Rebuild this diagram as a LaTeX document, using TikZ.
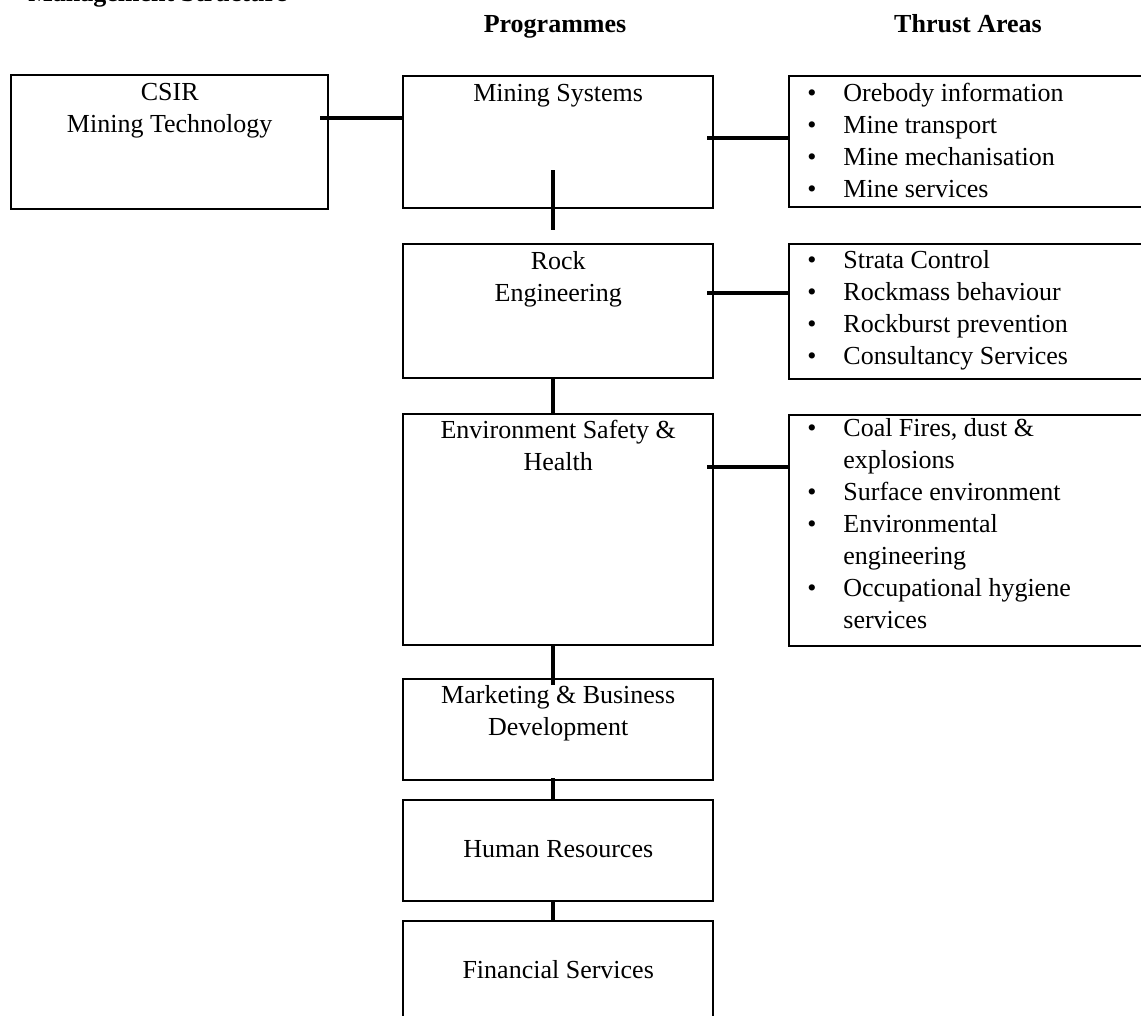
\documentclass[tikz,border=0pt]{standalone}
\usepackage{fontspec}
\setmainfont{Liberation Serif}
\usetikzlibrary{positioning,calc}

\newcommand{\tabul}{\makebox[18pt][l]{\raisebox{0.3pt}{\textbullet}}}
\newcommand{\nobul}{\makebox[18pt]{}}
\newcommand{\stack}[1]{\begin{tabular}[t]{@{}c@{}}#1\end{tabular}}
\newcommand{\items}[1]{\begin{tabular}[t]{@{}l@{}}#1\end{tabular}}

\tikzset{
  box/.style={draw, line width=1.2pt, anchor=north west, inner sep=0pt, minimum width=155pt},
  areabox/.style={box, minimum width=190pt},
  link/.style={line width=2pt},
  boxtext/.style={anchor=base, inner sep=0pt, font=\fontsize{13}{16}\selectfont},
  head/.style={anchor=base, inner sep=0pt, font=\fontsize{13}{16}\selectfont\bfseries},
  listtext/.style={anchor=base west, inner sep=0pt, font=\fontsize{13}{16}\selectfont}
}

\begin{document}
\begin{tikzpicture}[x=0.5pt, y=-0.5pt]
    \useasboundingbox (0,0) rectangle (1141,1016);

    % headings
    \node[head, anchor=base west] (title) at (28,2) {Management Structure};
    \node[head] (proghead) at (555,33) {Programmes};
    \node[head] (areahead) at (968,33) {Thrust Areas};

    % boxes
    \node[box, minimum width=158.5pt, minimum height=67pt] (csir) at (10,74) {};
    \node[box, minimum height=66pt] (ms) at (402,75) {};
    \node[box, minimum height=67pt] (rock) at (402,243) {};
    \node[box, minimum height=115.5pt] (env) at (402,413) {};
    \node[box, minimum height=50.5pt] (mkt) at (402,678) {};
    \node[box, minimum height=50.5pt] (hr) at (402,799) {};
    \node[box, minimum height=60pt] (fs) at (402,920) {};
    \node[areabox, minimum height=65.5pt] (ta1) at (788,75) {};
    \node[areabox, minimum height=67.5pt] (ta2) at (788,243) {};
    \node[areabox, minimum height=115.5pt] (ta3) at (788,414) {};

    % programme names
    \node[boxtext] (csir-t) at ([yshift=-13.5pt]csir.north) {\stack{CSIR\\Mining Technology}};
    \node[boxtext] (ms-t) at ([yshift=-13.5pt]ms.north) {Mining Systems};
    \node[boxtext] (rock-t) at ([yshift=-13.5pt]rock.north) {\stack{Rock\\Engineering}};
    \node[boxtext] (env-t) at ([yshift=-12.5pt]env.north) {\stack{Environment Safety \&\\Health}};
    \node[boxtext] (mkt-t) at ([yshift=-12.5pt]mkt.north) {\stack{Marketing \& Business\\Development}};
    \node[boxtext] (hr-t) at ([yshift=-29pt]hr.north) {Human Resources};
    \node[boxtext] (fs-t) at ([yshift=-29pt]fs.north) {Financial Services};

    % thrust areas
    \node[listtext] (ta1-t) at ([xshift=9.5pt,yshift=-13.5pt]ta1.north west) {\items{%
        \tabul Orebody information\\
        \tabul Mine transport\\
        \tabul Mine mechanisation\\
        \tabul Mine services}};
    \node[listtext] (ta2-t) at ([xshift=9.5pt,yshift=-13pt]ta2.north west) {\items{%
        \tabul Strata Control\\
        \tabul Rockmass behaviour\\
        \tabul Rockburst prevention\\
        \tabul Consultancy Services}};
    \node[listtext] (ta3-t) at ([xshift=9.5pt,yshift=-11.5pt]ta3.north west) {\items{%
        \tabul Coal Fires, dust \&\\
        \nobul explosions\\
        \tabul Surface environment\\
        \tabul Environmental\\
        \nobul engineering\\
        \tabul Occupational hygiene\\
        \nobul services}};

    % horizontal links
    \coordinate (c1) at ([xshift=-4.5pt,yshift=-22pt]csir.north east);
    \draw[link] (c1) -- (c1 -| ms.west);
    \coordinate (c2) at ([xshift=-3.5pt,yshift=-31.5pt]ms.north east);
    \draw[link] (c2) -- (c2 -| ta1.west);
    \coordinate (c3) at ([xshift=-3.5pt,yshift=-25pt]rock.north east);
    \draw[link] (c3) -- (c3 -| ta2.west);
    \coordinate (c4) at ([xshift=-3.5pt,yshift=-27pt]env.north east);
    \draw[link] (c4) -- (c4 -| ta3.west);

    % vertical links
    \draw[link] ([xshift=-2.5pt,yshift=19.5pt]ms.south) -- ([xshift=-2.5pt,yshift=6.5pt]rock.north);
    \draw[link] ([xshift=-2.5pt]rock.south) -- ([xshift=-2.5pt]env.north);
    \draw[link] ([xshift=-2.5pt]env.south) -- ([xshift=-2.5pt,yshift=-3.5pt]mkt.north);
    \draw[link] ([xshift=-2.5pt,yshift=1.5pt]mkt.south) -- ([xshift=-2.5pt]hr.north);
    \draw[link] ([xshift=-2.5pt]hr.south) -- ([xshift=-2.5pt]fs.north);
\end{tikzpicture}
\end{document}
